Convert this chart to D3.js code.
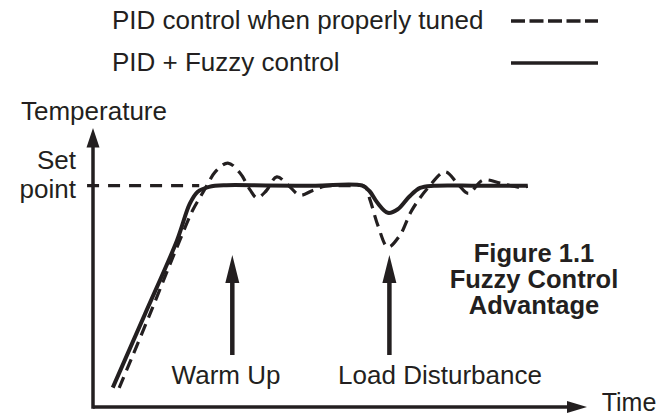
<!DOCTYPE html>
<html><head><meta charset="utf-8">
<script src="https://cdn.jsdelivr.net/npm/d3@7/dist/d3.min.js"></script>
<style>
html,body{margin:0;padding:0;background:#fff;}
text{font-family:"Liberation Sans",Arial,Helvetica,sans-serif;fill:#231f20;}
</style></head>
<body><svg id="chart" width="670" height="415"></svg>
<script>
// ---- data (time 0..100, temperature 0..100) ----
const setPoint = 80;
const pidTime  = [5.3, 11.5, 17.6, 20.2, 21.9, 23.1, 24.7, 27.3, 29.8, 31.8, 33.2, 35.0, 37.2, 39.5, 41.9, 44.5, 47.0, 52.0, 55.0, 56.1, 57.7, 59.7, 62.1, 64.5, 67.8, 71.3, 73.9, 76.0, 78.9, 82.4, 86.4, 88.0];
const pidTemp  = [6.9, 33.5, 60.4, 71.2, 76.5, 80.2, 84.9, 88.2, 84.5, 78.5, 75.6, 78.0, 83.2, 80.2, 76.6, 78.3, 79.8, 80.0, 79.8, 74.8, 65.5, 57.8, 62.0, 71.0, 79.2, 85.0, 80.5, 77.2, 82.0, 81.0, 79.4, 79.8];
const fuzzyTime = [4.0, 10.5, 17.0, 19.6, 21.2, 23.5, 27.0, 35.0, 45.0, 54.5, 56.0, 57.5, 59.7, 61.7, 64.0, 66.2, 69.0, 78.0, 88.0];
const fuzzyTemp = [7.0, 33.5, 60.2, 73.5, 77.8, 79.6, 80.2, 80.1, 80.0, 80.0, 78.0, 74.0, 70.2, 71.5, 76.0, 79.2, 80.0, 80.0, 80.0];
const legendLabels = ["PID control when properly tuned", "PID + Fuzzy control"];
const eventTimes  = [28.2, 60.0];
const eventLabels = ["Warm Up", "Load Disturbance"];
const eventLabelX = [226, 440];
const titleLines = ["Figure 1.1", "Fuzzy Control", "Advantage"];

const svg = d3.select("#chart");
const ink = "#231f20";
const x = d3.scaleLinear().domain([0, 100]).range([93, 587]);
const y = d3.scaleLinear().domain([0, 100]).range([407, 130.4]);

// axes
svg.append("line").attr("x1", x(0)).attr("x2", x(100) - 14).attr("y1", y(0)).attr("y2", y(0))
  .attr("stroke", ink).attr("stroke-width", 3.5);
svg.append("line").attr("x1", x(0)).attr("x2", x(0)).attr("y1", y(0) + 1.75).attr("y2", y(100) + 10)
  .attr("stroke", ink).attr("stroke-width", 3.5);
svg.append("path").attr("d", `M${x(100)},${y(0)} L${x(100)-20},${y(0)-6} L${x(100)-20},${y(0)+6} Z`).attr("fill", ink);
svg.append("path").attr("d", `M${x(0)},${y(100)-2.4} L${x(0)-6.5},${y(100)+17} L${x(0)+6.5},${y(100)+17} Z`).attr("fill", ink);

svg.append("text").attr("x", 21).attr("y", 120).attr("font-size", 26).text("Temperature");
svg.append("text").attr("x", 629).attr("y", 411).attr("font-size", 25).attr("text-anchor", "middle").text("Time");
svg.append("text").attr("x", 76).attr("y", 169).attr("font-size", 26).attr("text-anchor", "end").text("Set");
svg.append("text").attr("x", 76).attr("y", 198).attr("font-size", 26).attr("text-anchor", "end").text("point");

// set point line
svg.append("line").attr("x1", x(-1.2)).attr("x2", x(21.5)).attr("y1", y(setPoint)).attr("y2", y(setPoint))
  .attr("stroke", ink).attr("stroke-width", 3.2).attr("stroke-dasharray", "12,9");

const line = d3.line().x(d => x(d[0])).y(d => y(d[1])).curve(d3.curveCatmullRom.alpha(0.5));
svg.append("path").attr("d", line(d3.zip(pidTime, pidTemp))).attr("fill", "none")
  .attr("stroke", ink).attr("stroke-width", 3.2).attr("stroke-dasharray", "12,7");
svg.append("path").attr("d", line(d3.zip(fuzzyTime, fuzzyTemp))).attr("fill", "none")
  .attr("stroke", ink).attr("stroke-width", 4);

// event arrows
eventTimes.forEach((t, i) => {
  const cx = x(t);
  svg.append("line").attr("x1", cx).attr("x2", cx).attr("y1", 355).attr("y2", 275)
    .attr("stroke", ink).attr("stroke-width", 4.5);
  svg.append("path").attr("d", `M${cx},255 L${cx-7},283 L${cx+7},283 Z`).attr("fill", ink);
  svg.append("text").attr("x", eventLabelX[i]).attr("y", 384).attr("font-size", 26).attr("text-anchor", "middle").text(eventLabels[i]);
});

// title
titleLines.forEach((s, i) => {
  svg.append("text").attr("x", 534).attr("y", 262 + i * 26).attr("font-size", 25.5)
    .attr("font-weight", "bold").attr("text-anchor", "middle").text(s);
});

// legend
legendLabels.forEach((s, i) => {
  const yy = 29 + i * 42;
  svg.append("text").attr("x", 112).attr("y", yy).attr("font-size", 26).text(s);
  svg.append("line").attr("x1", 511).attr("x2", 598).attr("y1", yy - 8).attr("y2", yy - 8)
    .attr("stroke", ink).attr("stroke-width", 3.5).attr("stroke-dasharray", i === 0 ? "14,4.5" : null);
});
</script></body></html>
